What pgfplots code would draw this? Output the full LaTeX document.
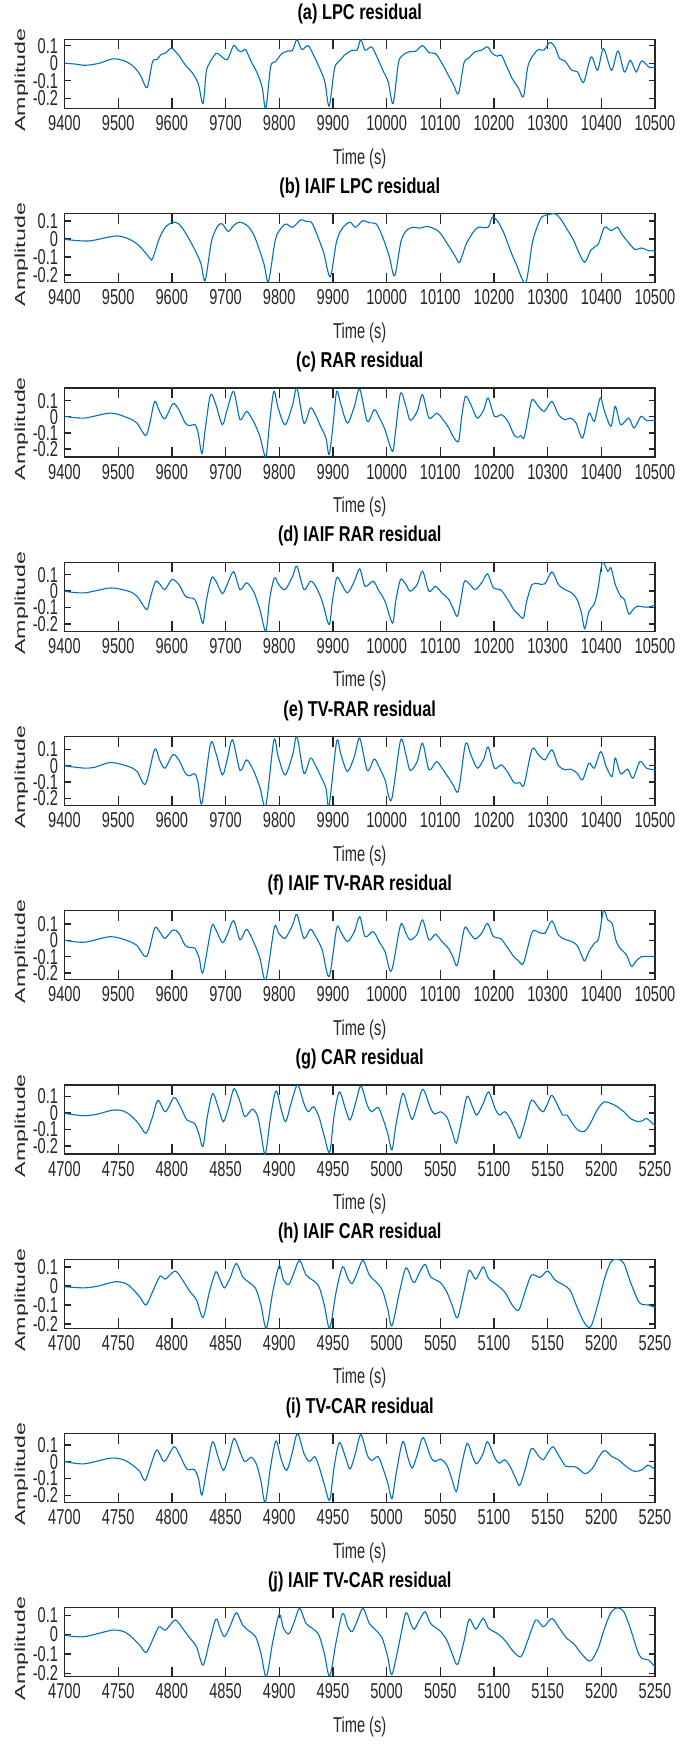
\documentclass[border=0pt]{standalone}
\usepackage{fontspec}
\setmainfont{Liberation Sans}[FakeStretch=0.68]
\newfontfamily\titlefont{Liberation Sans}[FakeStretch=0.76]
\newfontfamily\ylabfont{Liberation Sans}[FakeStretch=1.6]
\usepackage{pgfplots}
\pgfplotsset{compat=1.18}

\definecolor{mgray}{RGB}{38,38,38}
\definecolor{mblue}{RGB}{0,114,189}

\pgfplotsset{
  resid/.style={
    scale only axis, width=590.5pt, height=69pt, anchor=north west,
    axis line style={mgray, line width=1.3pt},
    tick style={mgray, line width=1.3pt},
    tick align=inside, xtick pos=both, ytick pos=both,
    xtick style={/pgfplots/major tick length=10pt},
    ytick style={/pgfplots/major tick length=6.5pt},
    ticklabel style={font=\fontsize{21.5}{24}\selectfont, text=mgray},
    xticklabel style={yshift=-3.5pt},
    yticklabel style={xshift=-3pt},
    scaled x ticks=false, scaled y ticks=false,
    /pgf/number format/assume math mode=true,
    /pgf/number format/1000 sep={},
    ytick={-0.2,-0.1,0,0.1},
    xlabel={Time (s)},
    ylabel={\ylabfont\fontsize{14.5}{16}\selectfont Amplitude},
    xlabel style={at={(axis description cs:0.5,-0.725)}, anchor=center,
      font=\fontsize{21.5}{24}\selectfont, text=mgray},
    ylabel style={at={(axis description cs:-0.073,0.41)}, anchor=center, text=mgray},
    title style={at={(axis description cs:0.5,1)}, anchor=center, yshift=20pt,
      font=\titlefont\bfseries\fontsize{21.5}{24}\selectfont, text=black},
    cycle list={{mblue}},
    every axis plot/.append style={line width=1.1pt, smooth, mark=none},
  },
  longx/.style={xmin=9400, xmax=10500, xtick={9400,9500,...,10500}},
  shortx/.style={xmin=4700, xmax=5250, xtick={4700,4750,...,5250}},
}

\begin{document}
\begin{tikzpicture}
\path[use as bounding box] (0,0) rectangle (691pt,-1744pt);

% (a)
\begin{axis}[resid, longx, at={(64.5pt,-39.5pt)}, title={(a) LPC residual},
  ymin=-0.258, ymax=0.135]
\addplot coordinates {
(9400,0.0) (9420,-0.005) (9440,-0.012) (9465,0.0) (9490,0.025) (9510,0.015) (9525,-0.01) (9535,-0.04) (9543,-0.078) (9554,-0.139)
(9564,0.008) (9572,0.02) (9580,0.05) (9588,0.058) (9599,0.087) (9604,0.075) (9613,0.045) (9625,-0.01) (9637,-0.05) (9649,-0.115) (9658,-0.23)
(9664,-0.05) (9670,0.0) (9682,0.055) (9690,0.045) (9703,0.02) (9715,0.1) (9723,0.075) (9730,0.065) (9737,0.078) (9748,0.008) (9758,-0.05) (9768,-0.135) (9775,-0.258)
(9784,-0.02) (9793,0.008) (9805,0.055) (9817,0.07) (9825,0.074) (9833,0.135) (9842,0.078) (9854,0.1) (9864,0.045) (9874,-0.02) (9885,-0.106) (9893,-0.245)
(9903,-0.03) (9911,0.008) (9923,0.05) (9936,0.074) (9945,0.074) (9952,0.135) (9960,0.074) (9972,0.093) (9982,0.036) (9993,-0.04) (10003,-0.106) (10012,-0.23)
(10022,0.0) (10030,0.045) (10042,0.065) (10054,0.068) (10067,0.1) (10079,0.06) (10091,0.055) (10103,0.0) (10115,-0.068) (10125,-0.125) (10134,-0.173)
(10144,0.0) (10152,0.027) (10165,0.065) (10177,0.074) (10188,0.093) (10197,0.055) (10206,0.04) (10214,0.045) (10224,-0.02) (10234,-0.087) (10246,-0.144) (10255,-0.19)
(10263,-0.02) (10273,0.045) (10283,0.078) (10293,0.074) (10304,0.118) (10314,0.09) (10322,0.027) (10332,0.013) (10345,-0.04) (10356,-0.05) (10367,-0.11)
(10381,0.036) (10393,-0.04) (10404,0.083) (10419,-0.04) (10431,0.07) (10443,-0.05) (10454,0.017) (10465,-0.05) (10475,0.013) (10490,-0.025) (10500,-0.02)
};
\end{axis}

% (b)
\begin{axis}[resid, longx, at={(64.5pt,-213.75pt)}, title={(b) IAIF LPC residual},
  ymin=-0.243, ymax=0.14]
\addplot coordinates {
(9400,-0.002) (9445,-0.011) (9498,0.017) (9527,-0.011) (9543,-0.05) (9559,-0.106) (9564,-0.11)
(9576,-0.002) (9588,0.065) (9602,0.093) (9613,0.083) (9625,0.036) (9641,-0.05) (9654,-0.135) (9662,-0.23)
(9674,-0.011) (9686,0.074) (9694,0.083) (9705,0.042) (9715,0.074) (9725,0.093) (9739,0.078) (9752,0.027) (9764,-0.068) (9772,-0.144) (9780,-0.235)
(9793,-0.002) (9805,0.065) (9813,0.083) (9825,0.065) (9840,0.106) (9850,0.097) (9860,0.093) (9870,0.027) (9883,-0.078) (9895,-0.21)
(9907,-0.011) (9919,0.065) (9932,0.093) (9942,0.065) (9956,0.102) (9968,0.089) (9981,0.083) (9993,0.008) (10005,-0.097) (10015,-0.205)
(10027,-0.011) (10038,0.05) (10050,0.065) (10062,0.06) (10075,0.07) (10087,0.059) (10099,0.036) (10116,-0.04) (10128,-0.097) (10136,-0.129)
(10148,-0.03) (10161,0.036) (10171,0.065) (10189,0.065) (10197,0.121) (10206,0.102) (10218,0.036) (10230,-0.059) (10242,-0.144) (10259,-0.243)
(10271,-0.03) (10279,0.055) (10289,0.121) (10304,0.137) (10314,0.14) (10324,0.112) (10336,0.055) (10349,-0.011) (10357,-0.068) (10369,-0.129)
(10381,-0.059) (10394,-0.03) (10406,0.065) (10418,0.046) (10430,0.065) (10438,0.027) (10451,-0.021) (10463,-0.059) (10475,-0.05) (10488,-0.065) (10500,-0.065)
};
\end{axis}

% (c)
\begin{axis}[resid, longx, at={(64.5pt,-388pt)}, title={(c) RAR residual},
  ymin=-0.25, ymax=0.179]
\addplot coordinates {
(9400,0.003) (9437,-0.008) (9486,0.023) (9519,-0.008) (9535,-0.039) (9551,-0.117) (9559,-0.039) (9568,0.096) (9577,0.034) (9587,-0.012)
(9602,0.081) (9613,0.044) (9625,-0.039) (9633,-0.055) (9643,-0.049) (9649,-0.101) (9656,-0.229) (9662,-0.08) (9672,0.137) (9682,0.075)
(9694,-0.049) (9703,0.044) (9715,0.158) (9727,-0.018) (9739,0.034) (9752,-0.028) (9764,-0.122) (9775,-0.25) (9782,-0.039) (9790,0.158)
(9798,0.054) (9811,-0.049) (9825,0.075) (9833,0.179) (9846,-0.039) (9858,0.054) (9866,0.023) (9877,-0.059) (9887,-0.132) (9893,-0.235)
(9900,-0.059) (9907,0.158) (9915,0.075) (9927,-0.039) (9940,0.065) (9950,0.172) (9964,-0.028) (9977,0.044) (9987,-0.008) (9997,-0.08)
(10011,-0.215) (10017,-0.08) (10026,0.148) (10036,0.065) (10044,-0.022) (10057,0.034) (10067,0.137) (10079,-0.008) (10093,0.023) (10103,-0.008)
(10116,-0.07) (10124,-0.122) (10134,-0.153) (10140,0.003) (10147,0.127) (10157,0.075) (10169,-0.008) (10181,0.044) (10189,0.117) (10201,0.003)
(10214,0.013) (10226,-0.028) (10238,-0.117) (10246,-0.126) (10250,-0.117) (10256,-0.132) (10263,-0.018) (10271,0.106) (10283,0.065) (10294,0.034)
(10308,0.096) (10320,0.013) (10332,-0.018) (10343,-0.008) (10353,-0.039) (10365,-0.132) (10377,0.023) (10387,-0.028) (10398,0.117) (10406,0.034)
(10418,-0.059) (10426,0.065) (10436,-0.049) (10451,-0.008) (10461,-0.07) (10474,0.003) (10484,-0.022) (10500,-0.022)
};
\end{axis}

% (d)
\begin{axis}[resid, longx, at={(64.5pt,-562.25pt)}, title={(d) IAIF RAR residual},
  ymin=-0.244, ymax=0.175]
\addplot coordinates {
(9400,-0.001) (9437,-0.011) (9486,0.019) (9519,-0.001) (9535,-0.031) (9553,-0.113) (9559,-0.052) (9569,0.056) (9577,0.044) (9587,0.009)
(9600,0.07) (9613,0.04) (9625,-0.031) (9635,-0.042) (9643,-0.052) (9651,-0.123) (9658,-0.198) (9664,-0.062) (9674,0.08) (9682,0.06)
(9694,-0.015) (9703,0.04) (9715,0.117) (9727,0.009) (9739,0.05) (9752,-0.001) (9764,-0.113) (9775,-0.244) (9782,-0.052) (9791,0.08)
(9799,0.04) (9811,0.009) (9825,0.09) (9833,0.151) (9846,0.009) (9858,0.06) (9868,0.029) (9880,-0.062) (9893,-0.204) (9899,-0.062)
(9907,0.08) (9915,0.05) (9927,-0.011) (9940,0.06) (9950,0.135) (9960,0.029) (9975,0.06) (9986,-0.001) (9997,-0.062) (10011,-0.194)
(10017,-0.062) (10026,0.07) (10036,0.04) (10044,-0.001) (10057,0.04) (10067,0.121) (10079,-0.001) (10091,0.029) (10103,-0.011) (10116,-0.052)
(10124,-0.106) (10132,-0.153) (10139,-0.042) (10145,0.06) (10155,0.04) (10165,0.009) (10177,0.05) (10188,0.104) (10199,0.019) (10212,0.009)
(10224,-0.042) (10237,-0.113) (10246,-0.143) (10255,-0.163) (10261,-0.062) (10271,0.04) (10283,0.044) (10295,0.044) (10308,0.117) (10320,0.04)
(10332,0.009) (10345,-0.011) (10355,-0.052) (10363,-0.133) (10369,-0.228) (10377,-0.123) (10387,-0.078) (10394,0.019) (10402,0.175) (10412,0.121)
(10418,0.141) (10426,0.04) (10436,-0.031) (10443,-0.052) (10451,-0.139) (10459,-0.113) (10467,-0.092) (10484,-0.098) (10500,-0.086)
};
\end{axis}

% (e)
\begin{axis}[resid, longx, at={(64.5pt,-736.5pt)}, title={(e) TV-RAR residual},
  ymin=-0.242, ymax=0.177]
\addplot coordinates {
(9400,-0.001) (9437,-0.015) (9457,-0.009) (9486,0.019) (9519,-0.005) (9535,-0.035) (9551,-0.111) (9568,0.1) (9577,0.035) (9587,-0.015)
(9602,0.066) (9613,0.035) (9625,-0.046) (9633,-0.062) (9643,-0.05) (9649,-0.106) (9656,-0.228) (9672,0.133) (9682,0.076) (9694,-0.056)
(9703,0.035) (9713,0.157) (9727,-0.029) (9739,0.035) (9752,-0.029) (9764,-0.131) (9775,-0.242) (9790,0.153) (9798,0.056) (9811,-0.056)
(9825,0.066) (9833,0.177) (9846,-0.046) (9858,0.046) (9866,0.011) (9877,-0.062) (9887,-0.137) (9893,-0.242) (9907,0.147) (9915,0.066)
(9927,-0.035) (9940,0.056) (9950,0.167) (9964,-0.029) (9977,0.04) (9987,-0.015) (9997,-0.086) (10009,-0.208) (10026,0.153) (10036,0.066)
(10044,-0.029) (10057,0.025) (10067,0.137) (10079,-0.025) (10093,0.025) (10103,-0.015) (10116,-0.076) (10124,-0.117) (10134,-0.151) (10147,0.133)
(10157,0.066) (10169,-0.015) (10181,0.04) (10189,0.113) (10201,-0.015) (10214,0.005) (10226,-0.042) (10238,-0.106) (10248,-0.102) (10256,-0.117)
(10271,0.1) (10283,0.066) (10295,0.035) (10308,0.096) (10320,0.001) (10332,-0.025) (10343,-0.021) (10355,-0.046) (10365,-0.086) (10377,0.015)
(10387,-0.015) (10399,0.086) (10409,-0.005) (10420,-0.066) (10426,0.046) (10436,-0.05) (10449,-0.021) (10459,-0.076) (10472,0.025) (10484,-0.015) (10500,-0.025)
};
\end{axis}

% (f)
\begin{axis}[resid, longx, at={(64.5pt,-910.75pt)}, title={(f) IAIF TV-RAR residual},
  ymin=-0.241, ymax=0.18]
\addplot coordinates {
(9400,0.0) (9437,-0.012) (9486,0.022) (9519,-0.005) (9535,-0.032) (9553,-0.099) (9568,0.073) (9577,0.053) (9587,0.012) (9602,0.063)
(9613,0.043) (9625,-0.032) (9635,-0.045) (9643,-0.049) (9651,-0.11) (9658,-0.195) (9674,0.083) (9682,0.063) (9694,-0.014) (9703,0.032)
(9715,0.12) (9727,0.002) (9739,0.067) (9752,-0.008) (9764,-0.109) (9775,-0.241) (9791,0.079) (9799,0.043) (9811,0.012) (9825,0.093)
(9833,0.158) (9846,0.012) (9858,0.067) (9868,0.022) (9880,-0.059) (9893,-0.221) (9907,0.073) (9915,0.049) (9927,-0.008) (9940,0.053)
(9950,0.144) (9960,0.022) (9975,0.053) (9986,-0.008) (9997,-0.069) (10009,-0.187) (10026,0.093) (10036,0.043) (10044,0.002) (10057,0.037)
(10067,0.124) (10079,0.002) (10091,0.037) (10103,-0.008) (10116,-0.053) (10124,-0.105) (10132,-0.15) (10145,0.073) (10155,0.043) (10165,0.008)
(10177,0.043) (10188,0.103) (10199,0.022) (10212,0.012) (10224,-0.039) (10237,-0.1) (10246,-0.126) (10255,-0.14) (10271,0.049) (10283,0.049)
(10295,0.043) (10308,0.118) (10320,0.032) (10332,0.006) (10345,-0.008) (10355,-0.032) (10363,-0.089) (10369,-0.126) (10377,-0.069) (10387,-0.018)
(10395,0.012) (10404,0.18) (10412,0.124) (10420,0.103) (10428,-0.008) (10436,-0.053) (10447,-0.089) (10456,-0.16) (10464,-0.13) (10475,-0.1) (10500,-0.1)
};
\end{axis}

% (g)
\begin{axis}[resid, shortx, at={(64.5pt,-1085pt)}, title={(g) CAR residual},
  ymin=-0.248, ymax=0.17]
\addplot coordinates {
(4700,-0.002) (4718,-0.016) (4731,-0.006) (4745,0.018) (4755,0.012) (4763,-0.022) (4770,-0.072) (4776,-0.122) (4782,-0.022) (4787,0.078)
(4794,0.008) (4802,0.094) (4808,0.038) (4814,-0.042) (4821,-0.062) (4825,-0.122) (4829,-0.202) (4833,-0.022) (4838,0.118) (4843,0.038)
(4848,-0.052) (4853,0.038) (4858,0.148) (4864,0.058) (4868,-0.022) (4875,0.024) (4880,-0.022) (4883,-0.122) (4887,-0.248) (4892,-0.022)
(4897,0.134) (4902,0.018) (4906,-0.052) (4911,0.058) (4917,0.17) (4923,0.058) (4927,0.008) (4932,0.038) (4937,-0.022) (4942,-0.142)
(4947,-0.238) (4951,-0.022) (4956,0.128) (4962,0.018) (4966,-0.042) (4971,0.058) (4976,0.164) (4982,0.048) (4986,0.008) (4992,0.034)
(4996,-0.022) (5001,-0.122) (5005,-0.222) (5009,-0.062) (5015,0.118) (5020,0.028) (5024,-0.038) (5029,0.058) (5034,0.144) (5041,0.028)
(5045,-0.006) (5050,0.008) (5056,-0.022) (5061,-0.112) (5065,-0.182) (5070,-0.042) (5075,0.102) (5080,0.038) (5084,-0.012) (5090,0.058)
(5095,0.128) (5101,0.028) (5105,-0.012) (5110,0.008) (5115,-0.032) (5120,-0.102) (5124,-0.152) (5129,-0.052) (5135,0.078) (5142,0.028)
(5146,0.008) (5150,0.058) (5154,0.108) (5160,0.038) (5164,-0.012) (5168,-0.012) (5172,-0.052) (5178,-0.102) (5184,-0.112) (5189,-0.072)
(5197,0.028) (5203,0.068) (5209,0.058) (5215,0.038) (5221,0.008) (5227,-0.032) (5234,-0.052) (5238,-0.048) (5242,-0.032) (5246,-0.052) (5250,-0.078)
};
\end{axis}

% (h)
\begin{axis}[resid, shortx, at={(64.5pt,-1259.25pt)}, title={(h) IAIF CAR residual},
  ymin=-0.222, ymax=0.14]
\addplot coordinates {
(4700,-0.004) (4718,-0.01) (4731,-0.001) (4747,0.022) (4757,0.013) (4763,-0.013) (4770,-0.057) (4776,-0.1) (4782,-0.031) (4789,0.051)
(4794,0.036) (4803,0.078) (4810,0.031) (4817,-0.031) (4823,-0.074) (4829,-0.165) (4835,-0.031) (4841,0.074) (4845,0.031) (4849,-0.01)
(4854,0.039) (4860,0.118) (4866,0.048) (4872,0.018) (4878,-0.013) (4883,-0.1) (4888,-0.222) (4894,-0.031) (4900,0.106) (4904,0.031)
(4909,0.008) (4914,0.074) (4919,0.134) (4925,0.057) (4931,0.031) (4937,-0.004) (4942,-0.1) (4947,-0.222) (4953,-0.031) (4959,0.1)
(4964,0.039) (4968,0.013) (4973,0.074) (4978,0.135) (4984,0.057) (4990,0.022) (4996,-0.022) (5001,-0.118) (5005,-0.209) (5012,-0.031)
(5018,0.095) (5023,0.039) (5026,0.017) (5031,0.074) (5036,0.113) (5041,0.048) (5050,0.018) (5056,-0.031) (5061,-0.1) (5066,-0.167)
(5072,-0.031) (5077,0.083) (5083,0.036) (5090,0.1) (5095,0.039) (5103,0.004) (5110,-0.031) (5117,-0.1) (5123,-0.127) (5129,-0.031)
(5135,0.057) (5143,0.045) (5150,0.078) (5157,0.031) (5165,0.004) (5171,-0.022) (5176,-0.092) (5182,-0.17) (5187,-0.214) (5191,-0.205)
(5197,-0.092) (5203,0.039) (5209,0.127) (5215,0.14) (5221,0.118) (5227,0.022) (5234,-0.074) (5238,-0.097) (5244,-0.1) (5250,-0.114)
};
\end{axis}

% (i)
\begin{axis}[resid, shortx, at={(64.5pt,-1433.5pt)}, title={(i) TV-CAR residual},
  ymin=-0.243, ymax=0.169]
\addplot coordinates {
(4700,0.002) (4718,-0.012) (4743,0.022) (4755,0.012) (4763,-0.018) (4770,-0.057) (4775,-0.112) (4780,-0.027) (4786,0.071) (4793,0.002)
(4802,0.09) (4808,0.031) (4814,-0.043) (4821,-0.047) (4825,-0.106) (4828,-0.198) (4833,-0.027) (4838,0.12) (4843,0.031) (4848,-0.051)
(4853,0.031) (4858,0.139) (4864,0.051) (4868,0.002) (4874,0.027) (4879,-0.018) (4883,-0.116) (4887,-0.243) (4892,-0.027) (4897,0.124)
(4902,0.012) (4907,-0.051) (4912,0.051) (4917,0.169) (4923,0.051) (4928,0.002) (4933,0.031) (4937,-0.027) (4942,-0.135) (4947,-0.229)
(4951,-0.037) (4956,0.114) (4962,0.022) (4966,-0.043) (4971,0.051) (4976,0.163) (4982,0.041) (4986,0.008) (4992,0.031) (4996,-0.027)
(5001,-0.125) (5005,-0.22) (5009,-0.067) (5015,0.12) (5020,0.022) (5024,-0.037) (5029,0.051) (5034,0.145) (5041,0.031) (5045,0.002)
(5050,0.016) (5056,-0.018) (5061,-0.106) (5065,-0.178) (5069,-0.047) (5075,0.11) (5080,0.031) (5084,-0.012) (5090,0.051) (5094,0.12)
(5101,0.022) (5105,-0.008) (5110,0.012) (5115,-0.027) (5120,-0.096) (5124,-0.141) (5129,-0.047) (5135,0.08) (5142,0.031) (5146,0.012)
(5150,0.051) (5155,0.09) (5161,0.031) (5167,-0.027) (5173,-0.027) (5178,-0.037) (5185,-0.071) (5192,-0.037) (5197,0.022) (5203,0.067)
(5210,0.031) (5216,0.012) (5223,-0.027) (5231,-0.057) (5238,-0.047) (5243,-0.02) (5247,-0.031) (5250,-0.047)
};
\end{axis}

% (j)
\begin{axis}[resid, shortx, at={(64.5pt,-1607.75pt)}, title={(j) IAIF TV-CAR residual},
  ymin=-0.217, ymax=0.138]
\addplot coordinates {
(4700,-0.003) (4718,-0.011) (4745,0.023) (4757,0.011) (4763,-0.016) (4770,-0.054) (4776,-0.092) (4782,-0.028) (4788,0.04) (4794,0.023)
(4803,0.075) (4810,0.032) (4817,-0.02) (4823,-0.063) (4829,-0.157) (4835,-0.037) (4841,0.08) (4845,0.032) (4849,-0.011) (4854,0.04)
(4860,0.112) (4866,0.049) (4872,0.018) (4878,-0.011) (4883,-0.097) (4888,-0.217) (4894,-0.037) (4900,0.104) (4904,0.032) (4909,0.004)
(4914,0.066) (4919,0.135) (4925,0.057) (4931,0.032) (4937,-0.003) (4942,-0.097) (4947,-0.214) (4953,-0.037) (4959,0.109) (4964,0.04)
(4968,0.015) (4973,0.075) (4978,0.135) (4984,0.057) (4990,0.023) (4996,-0.02) (5001,-0.114) (5005,-0.205) (5012,-0.037) (5018,0.112)
(5023,0.049) (5026,0.028) (5031,0.079) (5036,0.117) (5041,0.057) (5050,0.018) (5056,-0.028) (5061,-0.097) (5066,-0.154) (5072,-0.037)
(5077,0.08) (5083,0.028) (5090,0.083) (5095,0.032) (5103,0.006) (5110,-0.028) (5117,-0.08) (5125,-0.114) (5131,-0.037) (5139,0.075)
(5146,0.04) (5154,0.083) (5161,0.032) (5168,-0.02) (5174,-0.045) (5180,-0.088) (5187,-0.131) (5191,-0.131) (5197,-0.071) (5203,0.032)
(5209,0.114) (5215,0.138) (5221,0.117) (5227,0.032) (5234,-0.088) (5238,-0.123) (5244,-0.131) (5250,-0.166)
};
\end{axis}
\end{tikzpicture}
\end{document}
